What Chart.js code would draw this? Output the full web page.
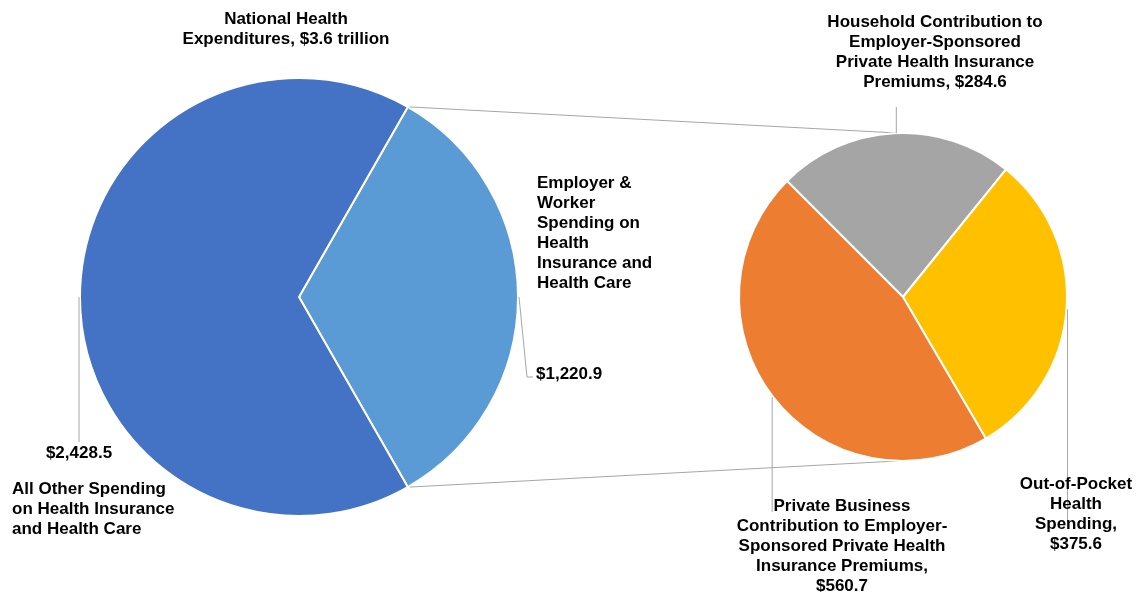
<!DOCTYPE html>
<html>
<head>
<meta charset="utf-8">
<script src="https://cdn.jsdelivr.net/npm/chart.js@4.4.1/dist/chart.umd.min.js"></script>
<style>
  body { margin: 0; background: #fff; }
  .wrap { position: relative; width: 1138px; height: 592px; }
  .wrap canvas { position: absolute; left: 0; top: 0; }
</style>
</head>
<body>
<div class="wrap">
  <canvas id="mainPie" width="1138" height="592"></canvas>
  <canvas id="subPie" width="1138" height="592"></canvas>
</div>
<script>
// chart data
const titleLines = ['National Health', 'Expenditures, $3.6 trillion'];

const mainLabels = [
  ['Employer &', 'Worker', 'Spending on', 'Health', 'Insurance and', 'Health Care'],
  ['All Other Spending', 'on Health Insurance', 'and Health Care']
];
const mainValues = [1220.9, 2428.5];
const mainColors = ['#5B9BD5', '#4472C4'];

const subLabels = [
  ['Household Contribution to', 'Employer-Sponsored', 'Private Health Insurance', 'Premiums,'],
  ['Out-of-Pocket', 'Health', 'Spending,'],
  ['Private Business', 'Contribution to Employer-', 'Sponsored Private Health', 'Insurance Premiums,']
];
const subValues = [284.6, 375.6, 560.7];
const subColors = ['#A5A5A5', '#FFC000', '#ED7D31'];

const FONT = 'bold 17px "Liberation Sans", Arial, sans-serif';
const LINE_H = 20;
const LEADER = '#A6A6A6';

function money(v) {
  return '$' + v.toLocaleString('en-US', { minimumFractionDigits: 1, maximumFractionDigits: 1 });
}

function drawLines(ctx, lines, x, y, align) {
  ctx.textAlign = align;
  lines.forEach(function (t, i) { ctx.fillText(t, x, y + i * LINE_H); });
}

function polyline(ctx, pts) {
  ctx.beginPath();
  ctx.moveTo(pts[0][0], pts[0][1]);
  for (let i = 1; i < pts.length; i++) ctx.lineTo(pts[i][0], pts[i][1]);
  ctx.stroke();
}

// point on the arc edge at the middle of the slice
function edgeMid(arc) {
  const p = arc.getProps(['x', 'y', 'startAngle', 'endAngle', 'outerRadius'], true);
  const a = (p.startAngle + p.endAngle) / 2;
  return { x: p.x + Math.cos(a) * p.outerRadius, y: p.y + Math.sin(a) * p.outerRadius, cx: p.x, cy: p.y, r: p.outerRadius };
}

// left pie labels
const mainLabelPlugin = {
  id: 'mainLabelPlugin',
  afterDatasetsDraw(chart) {
    const ctx = chart.ctx;
    const arcs = chart.getDatasetMeta(0).data;
    const e0 = edgeMid(arcs[0]);
    const e1 = edgeMid(arcs[1]);
    ctx.save();
    ctx.strokeStyle = LEADER;
    ctx.lineWidth = 1;
    // leader lines
    polyline(ctx, [[e0.x + 1, e0.y], [e0.x + 9, e0.y + 80], [e0.x + 15, e0.y + 80]]);
    polyline(ctx, [[e1.x - 1, e1.y], [e1.x - 1, e1.y + 145]]);

    ctx.fillStyle = '#000';
    ctx.font = FONT;
    ctx.textBaseline = 'middle';
    // title
    drawLines(ctx, titleLines, e0.cx - 13, 19, 'center');
    drawLines(ctx, mainLabels[0], e0.x + 19, e0.y - 114, 'left');
    drawLines(ctx, [money(mainValues[0])], e0.x + 18, e0.y + 77, 'left');
    drawLines(ctx, [money(mainValues[1])], e1.x - 1, e1.y + 156, 'center');
    drawLines(ctx, mainLabels[1], 12, e1.y + 192, 'left');
    ctx.restore();
  }
};

var ctx = document.getElementById('mainPie').getContext('2d');
var mainChart = new Chart(ctx, {
  type: 'pie',
  data: {
    labels: mainLabels,
    datasets: [{
      data: mainValues,
      backgroundColor: mainColors,
      borderColor: '#ffffff',
      borderWidth: 2
    }]
  },
  options: {
    responsive: false,
    animation: false,
    rotation: 90 - 180 * mainValues[0] / (mainValues[0] + mainValues[1]), // employer slice faces right
    layout: { padding: { left: 79, top: 77, right: 619, bottom: 75 } },
    plugins: {
      legend: { display: false },
      tooltip: { enabled: false }
    }
  },
  plugins: [mainLabelPlugin]
});

// right pie: connectors + labels
const subLabelPlugin = {
  id: 'subLabelPlugin',
  beforeDatasetsDraw(chart) {
    const ctx = chart.ctx;
    const big = mainChart.getDatasetMeta(0).data[0].getProps(['x', 'y', 'startAngle', 'endAngle', 'outerRadius'], true);
    const small = chart.getDatasetMeta(0).data[0].getProps(['x', 'y', 'outerRadius'], true);
    ctx.save();
    ctx.strokeStyle = LEADER;
    ctx.lineWidth = 1;
    polyline(ctx, [[big.x + Math.cos(big.startAngle) * big.outerRadius + 2, big.y + Math.sin(big.startAngle) * big.outerRadius],
      [small.x - 6, small.y - small.outerRadius]]);
    polyline(ctx, [[big.x + Math.cos(big.endAngle) * big.outerRadius + 2, big.y + Math.sin(big.endAngle) * big.outerRadius],
      [small.x - 6, small.y + small.outerRadius]]);
    ctx.restore();
  },
  afterDatasetsDraw(chart) {
    const ctx = chart.ctx;
    const arcs = chart.getDatasetMeta(0).data;
    const g = edgeMid(arcs[0]);
    const y = edgeMid(arcs[1]);
    const o = edgeMid(arcs[2]);
    ctx.save();
    ctx.strokeStyle = LEADER;
    ctx.lineWidth = 1;
    polyline(ctx, [[g.x + 2, g.y], [g.x + 2, g.cy - 190]]);
    polyline(ctx, [[y.x + 1, y.y], [y.x + 1, y.cy + 226]]);
    polyline(ctx, [[o.x - 1, o.y], [o.x - 1, o.cy + 215]]);

    ctx.fillStyle = '#000';
    ctx.font = FONT;
    ctx.textBaseline = 'middle';
    const gl = subLabels[0].slice();
    gl[gl.length - 1] += ' ' + money(subValues[0]);
    drawLines(ctx, gl, g.cx + 32, g.cy - 275, 'center');
    drawLines(ctx, subLabels[1].concat([money(subValues[1])]), y.cx + 173, y.cy + 187, 'center');
    drawLines(ctx, subLabels[2].concat([money(subValues[2])]), o.cx - 61, o.cy + 209, 'center');
    ctx.restore();
  }
};

var ctx2 = document.getElementById('subPie').getContext('2d');
var subChart = new Chart(ctx2, {
  type: 'pie',
  data: {
    labels: subLabels,
    datasets: [{
      data: subValues,
      backgroundColor: subColors,
      borderColor: '#ffffff',
      borderWidth: 2
    }]
  },
  options: {
    responsive: false,
    animation: false,
    rotation: -45,
    layout: { padding: { left: 738, top: 132, right: 70, bottom: 130 } },
    plugins: {
      legend: { display: false },
      tooltip: { enabled: false }
    }
  },
  plugins: [subLabelPlugin]
});
</script>
</body>
</html>
